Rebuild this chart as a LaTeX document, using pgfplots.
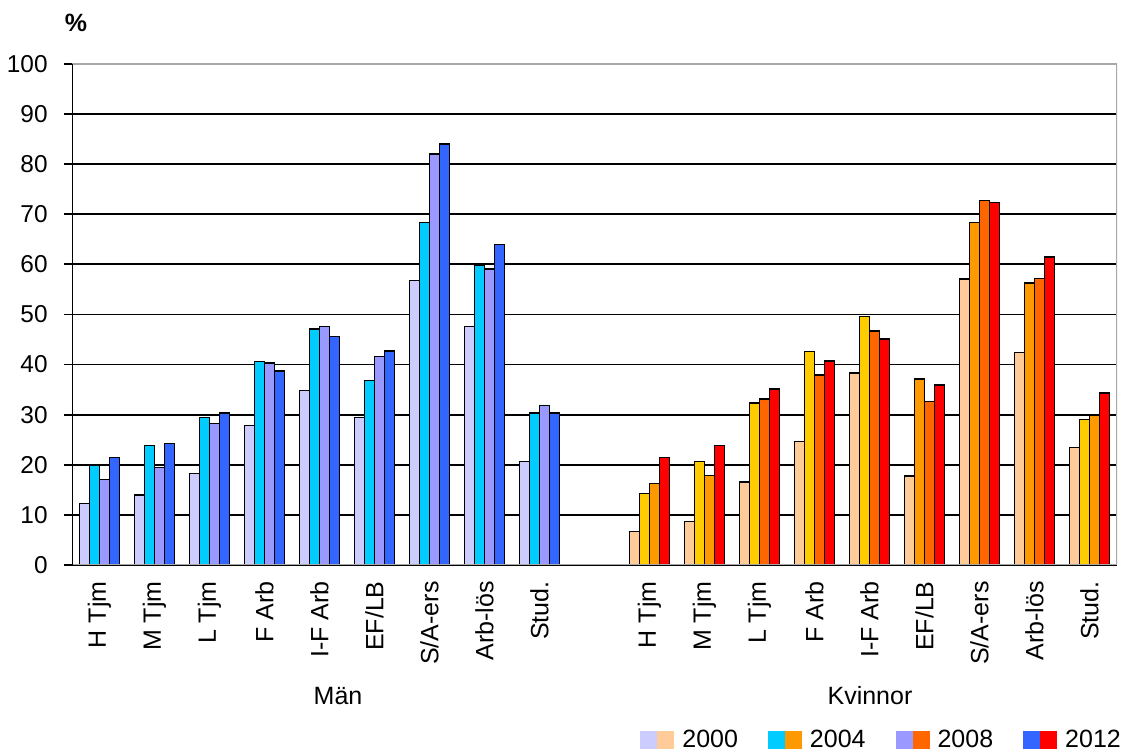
\documentclass[border=0pt]{standalone}
\usepackage{pgfplots}
\pgfplotsset{compat=1.18}
\usepackage{fontspec}
\setmainfont{Liberation Sans}
\definecolor{mA}{HTML}{CCCCFF}
\definecolor{mB}{HTML}{00CCFF}
\definecolor{mC}{HTML}{9999FF}
\definecolor{mD}{HTML}{3366FF}
\definecolor{wA}{HTML}{FFCC99}
\definecolor{wY}{HTML}{FFCC00}
\definecolor{wO}{HTML}{FF9900}
\definecolor{wR}{HTML}{FF6600}
\definecolor{wD}{HTML}{FF0000}
\definecolor{bord}{HTML}{A8A8A8}
\newcommand{\fs}{\fontsize{12.5}{15}\selectfont}
\newcommand{\fy}{\fontsize{12.2}{14.6}\selectfont}
\begin{document}
\begin{tikzpicture}
\path (0pt,0pt) rectangle (568.5pt,375.5pt);
\begin{axis}[
  at={(36pt,93pt)}, anchor=south west,
  scale only axis, width=522.5pt, height=250.5pt,
  xmin=-0.5, xmax=18.5, ymin=0, ymax=100,
  enlargelimits=false,
  axis line style={draw=none},
  ytick={0,10,...,100},
  xtick={0,1,2,3,4,5,6,7,8,10,11,12,13,14,15,16,17,18},
  xticklabels={H Tjm,M Tjm,L Tjm,F Arb,I-F Arb,EF/LB,S/A-ers,Arb-lös,Stud.,H Tjm,M Tjm,L Tjm,F Arb,I-F Arb,EF/LB,S/A-ers,Arb-lös,Stud.},
  major x tick style={draw=none},
  major y tick style={black, line width=0.9pt},
  tick align=outside, major tick length=4pt,
  ytick pos=left,
  ymajorgrids, grid style={black, line width=0.9pt},
  /pgf/number format/assume math mode=true,
  yticklabel style={font=\fy, anchor=east, inner sep=0pt, xshift=-8pt},
  xticklabel style={font=\fs, yshift=-4pt, rotate=90, anchor=east, inner sep=0pt},
  legend style={at={(0.5435,-0.349)}, anchor=west, draw=none, fill=none, inner sep=0pt,
    font=\fs, legend columns=4,
    /tikz/every even column/.append style={column sep=13pt}},
  every axis plot/.append style={ybar, bar width=0.18, draw=black, line width=0.7pt},
]
% Men
\addplot[fill=mA, bar shift=-0.27, forget plot] coordinates {(0,12.3)(1,14.0)(2,18.3)(3,27.9)(4,34.8)(5,29.5)(6,56.8)(7,47.6)(8,20.6)};
\addplot[fill=mB, bar shift=-0.09, forget plot] coordinates {(0,19.9)(1,23.8)(2,29.5)(3,40.6)(4,47.1)(5,36.8)(6,68.4)(7,59.8)(8,30.3)};
\addplot[fill=mC, bar shift=0.09, forget plot] coordinates {(0,17.1)(1,19.5)(2,28.3)(3,40.3)(4,47.6)(5,41.6)(6,82.0)(7,59.1)(8,31.8)};
\addplot[fill=mD, bar shift=0.27, forget plot] coordinates {(0,21.5)(1,24.3)(2,30.3)(3,38.7)(4,45.6)(5,42.7)(6,84.0)(7,64.0)(8,30.3)};
% Women
\addplot[fill=wA, bar shift=-0.27, forget plot] coordinates {(10,6.7)(11,8.7)(12,16.6)(13,24.7)(14,38.3)(15,17.8)(16,57.1)(17,42.4)(18,23.5)};
\addplot[fill=wY, bar shift=-0.09, forget plot] coordinates {(10,14.3)(11,20.6)(12,32.3)(13,42.6)(14,49.6)(18,29.1)};
\addplot[fill=wO, bar shift=-0.09, forget plot] coordinates {(15,37.1)(16,68.4)(17,56.3)};
\addplot[fill=wO, bar shift=0.09, forget plot] coordinates {(10,16.3)(11,17.9)(18,29.8)};
\addplot[fill=wR, bar shift=0.09, forget plot] coordinates {(12,33.1)(13,37.9)(14,46.7)(15,32.6)(16,72.7)(17,57.2)};
\addplot[fill=wD, bar shift=0.27, forget plot] coordinates {(10,21.5)(11,23.9)(12,35.1)(13,40.7)(14,45.1)(15,35.9)(16,72.4)(17,61.5)(18,34.3)};
% legend
\addlegendimage{legend image code/.code={\fill[mA, draw=none] (0pt,-4.5pt) rectangle (8.5pt,4.5pt); \fill[wA, draw=none] (8.5pt,-4.5pt) rectangle (17pt,4.5pt); \path[draw=none, fill=none] (0pt,0pt) -- (19pt,0pt);}}
\addlegendentry{2000}
\addlegendimage{legend image code/.code={\fill[mB, draw=none] (0pt,-4.5pt) rectangle (8.5pt,4.5pt); \fill[wO, draw=none] (8.5pt,-4.5pt) rectangle (17pt,4.5pt); \path[draw=none, fill=none] (0pt,0pt) -- (19pt,0pt);}}
\addlegendentry{2004}
\addlegendimage{legend image code/.code={\fill[mC, draw=none] (0pt,-4.5pt) rectangle (8.5pt,4.5pt); \fill[wR, draw=none] (8.5pt,-4.5pt) rectangle (17pt,4.5pt); \path[draw=none, fill=none] (0pt,0pt) -- (19pt,0pt);}}
\addlegendentry{2008}
\addlegendimage{legend image code/.code={\fill[mD, draw=none] (0pt,-4.5pt) rectangle (8.5pt,4.5pt); \fill[wD, draw=none] (8.5pt,-4.5pt) rectangle (17pt,4.5pt); \path[draw=none, fill=none] (0pt,0pt) -- (19pt,0pt);}}
\addlegendentry{2012}
\draw[bord, line width=0.9pt] (rel axis cs:0,1) -- (rel axis cs:1,1) -- (rel axis cs:1,0) -- (rel axis cs:0,0);
\draw[black, line width=0.9pt] (rel axis cs:0,0) -- (rel axis cs:0,1);
\end{axis}
\node[font=\fs] at (169pt,27.5pt) {Män};
\node[font=\fs] at (435pt,27.5pt) {Kvinnor};
\node[font=\fs\bfseries] at (38pt,364pt) {\%};
\end{tikzpicture}
\end{document}
